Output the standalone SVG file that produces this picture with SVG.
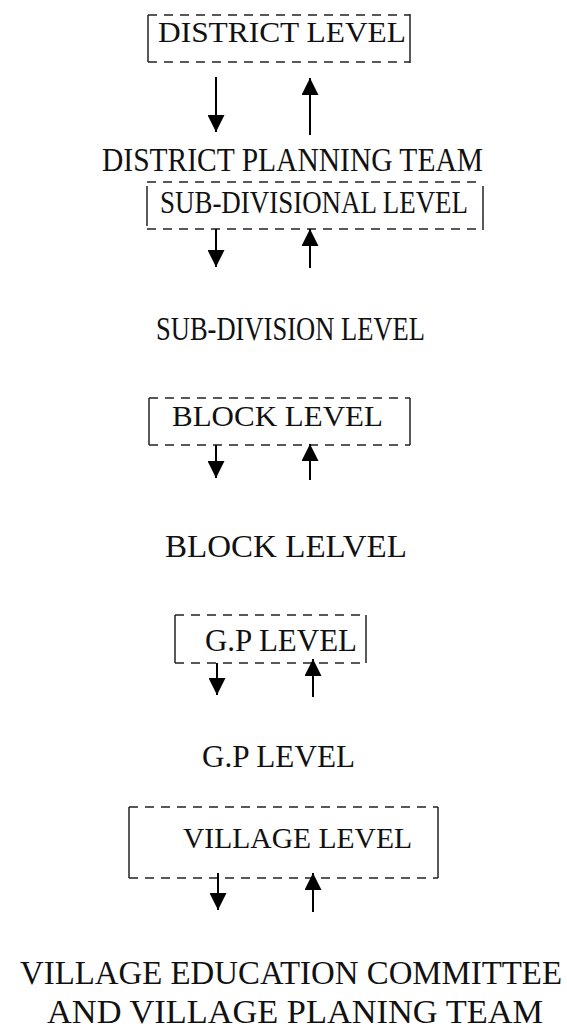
<svg xmlns="http://www.w3.org/2000/svg" width="567" height="1028" viewBox="0 0 567 1028">
<defs>
<style>
text{font-family:"Liberation Serif","Times New Roman",serif;fill:#111;}
.dash{stroke:#222;stroke-width:1.5;stroke-dasharray:9 7;fill:none;}
.side{stroke:#222;stroke-width:1.5;fill:none;}
.arr{stroke:#000;stroke-width:2;fill:none;marker-end:url(#ah);}
</style>
<marker id="ah" viewBox="0 0 20 20" refX="20" refY="10" markerWidth="19" markerHeight="17" orient="auto" markerUnits="userSpaceOnUse">
<path d="M0,0 L20,10 L0,20 z" fill="#000"/>
</marker>
</defs>
<rect width="567" height="1028" fill="#fff"/>

<g id="district-level">
<line class="dash" x1="148" y1="15" x2="410" y2="15"/>
<line class="dash" x1="148" y1="62" x2="410" y2="62"/>
<line class="side" x1="148" y1="15" x2="148" y2="62"/>
<line class="side" x1="410" y1="14" x2="410" y2="63"/>
<text x="158" y="42" font-size="30" textLength="248" lengthAdjust="spacingAndGlyphs">DISTRICT LEVEL</text>
</g>

<g id="district-planning-team">
<text x="102" y="171" font-size="33" textLength="381" lengthAdjust="spacingAndGlyphs">DISTRICT PLANNING TEAM</text>
</g>

<g id="sub-divisional-level">
<line class="dash" x1="147" y1="182" x2="483" y2="182"/>
<line class="dash" x1="147" y1="229" x2="483" y2="229"/>
<line class="side" x1="147" y1="186" x2="147" y2="226"/>
<line class="side" x1="483" y1="186" x2="483" y2="230"/>
<text x="160" y="213" font-size="31" textLength="308" lengthAdjust="spacingAndGlyphs">SUB-DIVISIONAL LEVEL</text>
</g>

<g id="sub-division-level">
<text x="156" y="340" font-size="33" textLength="269" lengthAdjust="spacingAndGlyphs">SUB-DIVISION LEVEL</text>
</g>

<g id="block-level">
<line class="dash" x1="149" y1="398" x2="410" y2="398"/>
<line class="dash" x1="149" y1="445" x2="410" y2="445"/>
<line class="side" x1="149" y1="398" x2="149" y2="445"/>
<line class="side" x1="410" y1="398" x2="410" y2="445"/>
<text x="172" y="426" font-size="29" textLength="211" lengthAdjust="spacingAndGlyphs">BLOCK LEVEL</text>
</g>

<g id="block-lelvel">
<text x="165" y="557" font-size="31" textLength="242" lengthAdjust="spacingAndGlyphs">BLOCK LELVEL</text>
</g>

<g id="gp-level-box">
<line class="dash" x1="175" y1="615" x2="366" y2="615"/>
<line class="dash" x1="175" y1="663" x2="366" y2="663"/>
<line class="side" x1="175" y1="615" x2="175" y2="663"/>
<line class="side" x1="366" y1="615" x2="366" y2="663"/>
<text x="205" y="651" font-size="32" textLength="152" lengthAdjust="spacingAndGlyphs">G.P LEVEL</text>
</g>

<g id="gp-level">
<text x="202" y="767" font-size="31" textLength="153" lengthAdjust="spacingAndGlyphs">G.P LEVEL</text>
</g>

<g id="village-level">
<line class="dash" x1="129" y1="807" x2="438" y2="807"/>
<line class="dash" x1="129" y1="878" x2="438" y2="878"/>
<line class="side" x1="129" y1="807" x2="129" y2="878"/>
<line class="side" x1="438" y1="807" x2="438" y2="878"/>
<text x="183" y="848" font-size="30" textLength="229" lengthAdjust="spacingAndGlyphs">VILLAGE LEVEL</text>
</g>

<g id="village-committee">
<text x="20" y="984" font-size="33" textLength="542" lengthAdjust="spacingAndGlyphs">VILLAGE EDUCATION COMMITTEE</text>
<text x="47" y="1023" font-size="33" textLength="496" lengthAdjust="spacingAndGlyphs">AND VILLAGE PLANING TEAM</text>
</g>

<g id="connectors">
<line class="arr" x1="216" y1="77" x2="216" y2="132"/>
<line class="arr" x1="310" y1="135" x2="310" y2="78"/>
<line class="arr" x1="216" y1="229" x2="216" y2="267"/>
<line class="arr" x1="310" y1="268" x2="310" y2="229"/>
<line class="arr" x1="216" y1="445" x2="216" y2="478"/>
<line class="arr" x1="310" y1="480" x2="310" y2="444"/>
<line class="arr" x1="217" y1="663" x2="217" y2="695"/>
<line class="arr" x1="313" y1="697" x2="313" y2="659"/>
<line class="arr" x1="218" y1="873" x2="218" y2="910"/>
<line class="arr" x1="313" y1="912" x2="313" y2="873"/>
</g>
</svg>
